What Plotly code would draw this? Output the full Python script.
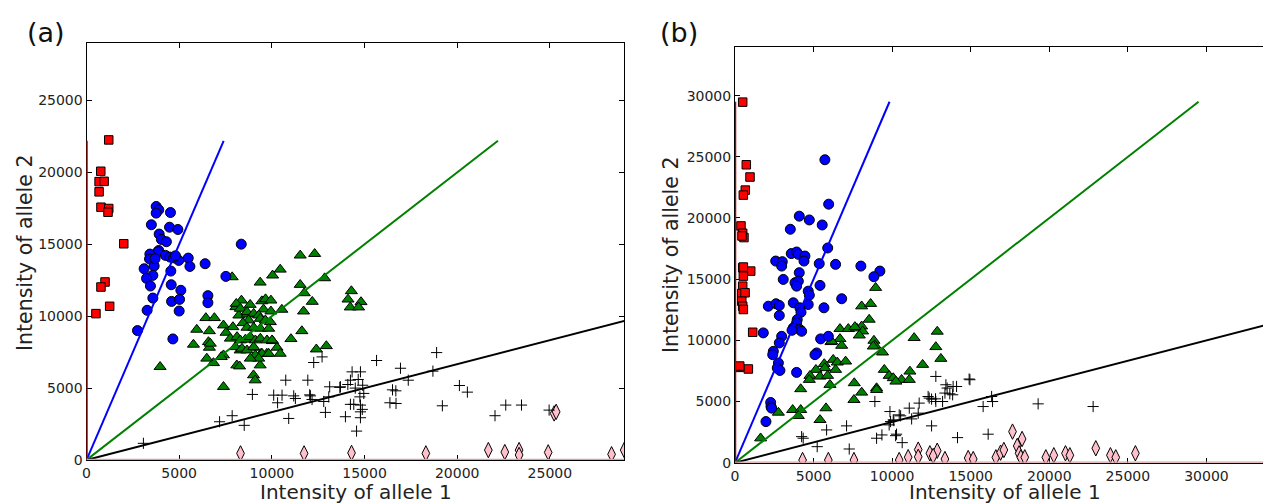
import plotly.graph_objects as go

# ---------------- Panel (a) data ----------------
a_red_x = [1200, 770, 680, 950, 680, 780, 1200, 1160, 2010, 1000, 780, 1250, 510]
a_red_y = [22260, 20080, 19360, 19380, 18650, 17580, 17490, 17230, 15040, 12380, 12030, 10690, 10180]

a_blue_x = [3760, 3900, 3760, 4530, 3500, 4480, 4930, 3920, 4040, 4310, 8350, 3900, 3850, 3420, 4260,
            4510, 4700, 4980, 5490, 3400, 3650, 3110, 5580, 6400, 4550, 3580, 3240, 7520, 3450, 4570,
            5090, 3580, 6550, 6550, 4590, 5020, 3270, 5000, 2750, 4660, 4800, 3700]
a_blue_y = [17630, 17400, 17170, 17210, 16360, 16190, 16030, 15710, 15340, 15180, 15010, 14570, 14480, 14320, 14230,
            14110, 14060, 13880, 14040, 13980, 13490, 13300, 13460, 13650, 13140, 12840, 12630, 12770, 12100, 12190,
            11800, 11260, 11430, 10940, 11030, 11170, 10410, 10360, 9000, 8420, 14200, 14000]

a_green_x = [11530, 12310, 10450, 7860, 10040, 9370, 12850, 11530, 14290, 14110, 14810, 14230, 14680, 11750, 12180,
             8360, 8830, 9460, 9660, 9950, 8060, 8220, 8670, 9550, 9950, 10540, 11710, 6440, 6900, 7390,
             6630, 7530, 11620, 11030, 10040, 6580, 6630, 10280, 10450, 12400, 12940, 8290, 9010, 9420, 9730,
             6850, 6490, 8110, 9370, 9010, 9100, 7390, 3970, 5770, 5950,
             8080, 8300, 8660, 9020, 9290, 9380, 9650, 9920, 8750, 8440, 7900, 8660, 9020, 9380, 9830,
             7760, 8120, 8300, 8570, 8840, 9110, 9380, 9740, 10010, 8030, 8390, 8660, 9020, 9470, 9830,
             9110, 9290, 8840, 8260, 7390, 7270, 6680]
a_green_y = [14230, 14340, 13250, 12720, 12840, 12350, 12650, 12190, 11750, 11170, 10990, 10620, 10620, 11610, 11010,
             11100, 10800, 11050, 11190, 11100, 10640, 10060, 10130, 10480, 10340, 10460, 10340, 9880, 9880, 9370,
             8970, 8860, 8970, 8420, 8280, 8210, 7820, 7820, 7400, 7700, 7930, 7630, 7820, 7400, 7400,
             6750, 7060, 6590, 6590, 5900, 5550, 5090, 6480, 8030, 9070,
             10870, 10530, 10290, 10180, 10060, 9830, 9720, 9600, 9720, 9530, 9250, 9210, 9210, 9140, 9140,
             8450, 8560, 8330, 8380, 8560, 8330, 8450, 8330, 8330, 7860, 7750, 7630, 7860, 7400, 7400,
             7290, 7060, 7060, 6520, 7290, 7170, 8100]

a_plus_x = [18890, 15650, 16940, 18690, 17360, 20120, 20550, 16510, 16690, 16370, 16700, 19200, 22040, 22620, 23470,
            24960, 14330, 14780, 14240, 14660, 14100, 14900, 14500, 13700, 13120, 14960, 14750, 14240, 14420, 14780,
            14880, 14780, 13970, 14780, 14570, 12890, 13070, 12800, 12260, 12710, 11940, 12040, 12170, 3070, 7180,
            7860, 8510, 8950, 10100, 10550, 10310, 10750, 10910, 11180, 11270, 12080, 13670]
a_plus_y = [7470, 6920, 6380, 6180, 5550, 5180, 4720, 4880, 4810, 3980, 3930, 3770, 3080, 3820, 3820,
            3470, 6130, 6130, 5550, 5600, 5250, 5200, 5000, 5090, 5090, 4630, 4390, 3870, 3870, 3820,
            3520, 3350, 3010, 2940, 2010, 3310, 4390, 4070, 6780, 7170, 5550, 4530, 4210, 1160, 2660,
            3080, 2410, 4560, 4510, 4510, 3980, 5550, 2890, 4460, 4280, 4460, 5050]

a_pink_x = [8310, 11740, 14300, 18310, 21680, 22570, 23340, 23340, 24910, 25230, 25340, 28330, 29010]
a_pink_y = [460, 460, 490, 460, 690, 550, 690, 350, 530, 3240, 3350, 400, 690]

a_line_top = 22200

# ---------------- Panel (b) data ----------------
b_red_x = [490, 720, 955, 655, 530, 380, 490, 570, 445, 490, 1000, 530, 530, 490, 430, 640, 430, 490, 530,
           1125, 275, 850, 300]
b_red_y = [29470, 24350, 23350, 22280, 21870, 19350, 18750, 18400, 18530, 15940, 15660, 15250, 15990, 14430,
           13830, 13890, 13200, 12790, 12520, 10660, 7790, 7660, 7900]

b_blue_x = [5720, 5960, 4090, 4730, 5550, 3520, 5900, 3580, 3920, 4030, 4450, 4390, 2590, 3010, 2970, 5360, 6400,
            8010, 9220, 8840, 4090, 3070, 3820, 4030, 3920, 5410, 4660, 4730, 6790, 2120, 2610, 2820, 3710, 4660,
            2820, 4130, 4200, 5660, 3960, 3920, 3710, 4130, 4240, 3630, 5450, 5940, 1800, 2970, 2820, 2440, 2400,
            5200, 5090, 2760, 2690, 2860, 3920, 2270, 2290, 2330, 1970]
b_blue_y = [24760, 21130, 20150, 19840, 19430, 19080, 17550, 17090, 17220, 17030, 16890, 16480, 16480, 16430,
            16070, 16270, 16210, 16070, 15660, 15200, 15530, 14980, 14710, 14840, 14430, 14490, 14020, 13690,
            13400, 12790, 12990, 12850, 13070, 12930, 12030, 12660, 12300, 12660, 11700, 11430, 11020, 10880,
            10740, 10820, 10120, 10330, 10610, 10330, 9790, 9100, 8830, 8970, 8830, 8150, 7740, 7540, 7380,
            4920, 4590, 4460, 3360]

b_green_x = [8950, 8060, 8630, 8540, 6680, 7210, 7740, 8060, 8120, 7910, 11400, 12870, 12780, 13100, 6110, 6680,
             6790, 8840, 8900, 9390, 5680, 6250, 6510, 7040, 5720, 6400, 5150, 4770, 5410, 5890, 6040, 4730,
             4180, 7590, 8060, 7570, 9010, 9500, 9810, 10070, 10600, 11130, 11090, 11940, 2760, 3670, 4180,
             4030, 5790, 5410, 1630, 9010, 10240, 6150, 7630, 8800]
b_green_y = [14300, 12790, 12990, 11700, 10940, 10940, 10990, 11150, 10740, 10410, 10200, 10720, 9460, 8500,
             9870, 10120, 9570, 9980, 9590, 9020, 8070, 8420, 8200, 8280, 7740, 7600, 7600, 7110, 7050, 7110,
             6370, 6780, 6020, 6510, 5740, 5140, 6100, 7600, 7110, 6920, 6780, 7460, 6780, 8010, 4100, 4320,
             4320, 3830, 4460, 3500, 2000, 5960, 6640, 9920, 11100, 9510]

b_plus_x = [12780, 14950, 13420, 13500, 14100, 13360, 13850, 12290, 12510, 12780, 13210, 11720, 11090, 11660,
            9860, 10450, 10070, 9810, 8900, 9350, 10220, 10640, 12510, 14160, 16110, 15790, 16330, 16390, 19290,
            22790, 4240, 5230, 5830, 7100, 7270, 9010, 9900, 10540, 11240, 12360, 12760, 13880, 13670, 14900,
            4340, 10280, 10110]
b_plus_y = [7050, 6780, 6370, 6100, 6230, 5690, 5550, 5410, 5200, 5000, 5000, 4870, 4460, 4050,
            4180, 3910, 3500, 3090, 5000, 2270, 2210, 1640, 3010, 2050, 2330, 4590, 5410, 5000, 4810,
            4590, 2130, 1310, 2680, 3010, 1120, 2000, 3360, 3830, 3580, 5280, 5220, 6230, 5630, 6840,
            2000, 2330, 3440]

b_pink_x = [4300, 5940, 7570, 10450, 11020, 11660, 11660, 12400, 12870, 12610, 13360, 14840, 15160, 16600,
            16900, 17110, 17660, 18270, 17960, 18080, 18190, 18440, 19780, 20290, 21030, 21310, 22960, 23890,
            24230, 25480]
b_pink_y = [220, 220, 220, 220, 450, 1070, 480, 770, 980, 550, 300, 380, 300, 440,
            820, 1040, 2540, 1940, 1370, 770, 440, 440, 440, 610, 770, 610, 1180, 610,
            440, 770]

b_line_top = 29500

ticks_a = [0, 5000, 10000, 15000, 20000, 25000]
ticks_b = [0, 5000, 10000, 15000, 20000, 25000, 30000]

# ---------------- Figure ----------------
W, H = 1263, 504
FONT = "DejaVu Sans"

fig = go.Figure()


def add_panel(fig, xa, ya, rx, ry, bx, by, gx, gy, px, py, kx, ky, top):
    common = dict(xaxis=xa, yaxis=ya, mode="markers", showlegend=False, hoverinfo="skip")
    fig.add_trace(go.Scatter(x=kx, y=ky, marker=dict(symbol="diamond-tall", size=11, color="#ffc0cb",
                                                   line=dict(color="#000000", width=1)), **common))
    fig.add_trace(go.Scatter(x=px, y=py, marker=dict(symbol="cross-thin", size=8,
                                                   line=dict(color="#000000", width=1)), **common))
    fig.add_trace(go.Scatter(x=gx, y=gy, marker=dict(symbol="triangle-up", size=10.5, color="#008000",
                                                   line=dict(color="#000000", width=1)), **common))
    fig.add_trace(go.Scatter(x=bx, y=by, marker=dict(symbol="circle", size=10, color="#0000ff",
                                                   line=dict(color="#000000", width=1)), **common))
    fig.add_trace(go.Scatter(x=rx, y=ry, marker=dict(symbol="square", size=8.5, color="#ff0000",
                                                   line=dict(color="#000000", width=1)), **common))
    lc = dict(xaxis=xa, yaxis=ya, mode="lines", showlegend=False, hoverinfo="skip")
    fig.add_trace(go.Scatter(x=[0, top / 3], y=[0, top], line=dict(color="#0000ff", width=2), **lc))
    fig.add_trace(go.Scatter(x=[0, top], y=[0, top], line=dict(color="#008000", width=2), **lc))
    fig.add_trace(go.Scatter(x=[0, top * 3], y=[0, top], line=dict(color="#000000", width=2), **lc))
    fig.add_trace(go.Scatter(x=[0, 0], y=[0, top], line=dict(color="#b00000", width=2.5), **lc))
    fig.add_trace(go.Scatter(x=[0, top * 3], y=[0, 0], line=dict(color="#d8a0a8", width=2.5), **lc))


add_panel(fig, "x", "y", a_red_x, a_red_y, a_blue_x, a_blue_y, a_green_x, a_green_y,
          a_plus_x, a_plus_y, a_pink_x, a_pink_y, a_line_top)
add_panel(fig, "x2", "y2", b_red_x, b_red_y, b_blue_x, b_blue_y, b_green_x, b_green_y,
          b_plus_x, b_plus_y, b_pink_x, b_pink_y, b_line_top)

tickfont = dict(family=FONT, size=14, color="#222222")
axis_common = dict(showgrid=False, zeroline=False, showline=True, linecolor="#000000", linewidth=1,
                   ticks="inside", ticklen=5, tickcolor="#000000", tickfont=tickfont,
                   layer="below traces", automargin=False, tickformat="d")

fig.update_layout(
    width=W, height=H,
    margin=dict(l=0, r=0, t=0, b=0, autoexpand=False),
    paper_bgcolor="white", plot_bgcolor="white",
    xaxis=dict(domain=[86.5 / W, 624 / W], range=[0, 29000], tickvals=ticks_a, mirror="ticks",
               anchor="y", **axis_common),
    yaxis=dict(domain=[(H - 460) / H, (H - 43) / H], range=[0, 29000], tickvals=ticks_a, mirror="ticks",
               anchor="x", **axis_common),
    xaxis2=dict(domain=[735 / W, 1.0], range=[0, 33600], tickvals=ticks_b, mirror="ticks",
                anchor="y2", **axis_common),
    yaxis2=dict(domain=[(H - 462.7) / H, (H - 46.7) / H], range=[0, 34000], tickvals=ticks_b, mirror=False,
                anchor="x2", **axis_common),
    annotations=[
        dict(text="(a)", x=46 / W, y=1 - 33 / H, xref="paper", yref="paper", showarrow=False,
             font=dict(family=FONT, size=27, color="#111111"), xanchor="center", yanchor="middle"),
        dict(text="(b)", x=679 / W, y=1 - 32 / H, xref="paper", yref="paper", showarrow=False,
             font=dict(family=FONT, size=27, color="#111111"), xanchor="center", yanchor="middle"),
        dict(text="Intensity of allele 1", x=356 / W, y=1 - 491.5 / H, xref="paper", yref="paper",
             showarrow=False, font=dict(family=FONT, size=20, color="#222222"),
             xanchor="center", yanchor="middle"),
        dict(text="Intensity of allele 1", x=1005 / W, y=1 - 492 / H, xref="paper", yref="paper",
             showarrow=False, font=dict(family=FONT, size=20, color="#222222"),
             xanchor="center", yanchor="middle"),
        dict(text="Intensity of allele 2", x=25 / W, y=1 - 253 / H, xref="paper", yref="paper",
             showarrow=False, textangle=-90, font=dict(family=FONT, size=20.5, color="#222222"),
             xanchor="center", yanchor="middle"),
        dict(text="Intensity of allele 2", x=671 / W, y=1 - 255 / H, xref="paper", yref="paper",
             showarrow=False, textangle=-90, font=dict(family=FONT, size=20.5, color="#222222"),
             xanchor="center", yanchor="middle"),
    ],
)

fig.write_html("out.html", config={"displayModeBar": False},
               post_script="document.body.style.margin='0';document.body.style.overflow='hidden';")
